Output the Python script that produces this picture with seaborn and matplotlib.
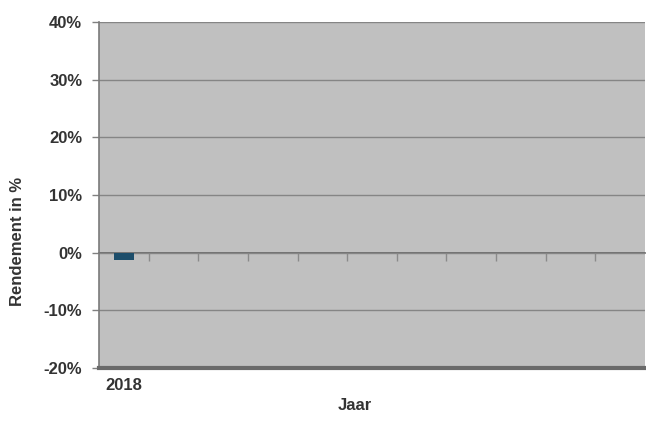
import numpy as np
import pandas as pd
import matplotlib
matplotlib.use('Agg')
import matplotlib.pyplot as plt
import seaborn as sns

# data
jaren = ['2018', '2019', '2020', '2021', '2022', '2023', '2024', '2025', '2026', '2027', '2028']
rendement = [-1.2, np.nan, np.nan, np.nan, np.nan, np.nan, np.nan, np.nan, np.nan, np.nan, np.nan]
x_labels = ['2018', '', '', '', '', '', '', '', '', '', '']
y_ticks = [-20, -10, 0, 10, 20, 30, 40]
y_labels = ['-20%', '-10%', '0%', '10%', '20%', '30%', '40%']

df = pd.DataFrame({'jaar': jaren, 'rendement': rendement})

sns.set_style('white')
plt.rcParams['font.family'] = ['Liberation Sans', 'DejaVu Sans']
plt.rcParams['font.weight'] = 'bold'

fig, ax = plt.subplots(figsize=(6.46, 4.25), dpi=100)
fig.subplots_adjust(left=99/646, right=645/646, bottom=(425-368)/425, top=(425-22)/425)
ax.set_facecolor('#c0c0c0')

sns.barplot(data=df, x='jaar', y='rendement', order=jaren, color='#1d4e6b',
            width=0.4, saturation=1, linewidth=0, ax=ax)

ymin, ymax = y_ticks[0], y_ticks[-1]
ax.set_ylim(ymin, ymax)
ax.set_xlim(-0.5, len(jaren) - 0.5)
ax.set_yticks(y_ticks)
ax.set_yticklabels(y_labels)
ax.set_xticks(range(len(jaren)))
ax.set_xticklabels(x_labels)

ax.yaxis.grid(True, color='#858585', linewidth=1)
ax.set_axisbelow(True)

ax.tick_params(axis='y', direction='out', length=5, width=1, color='#808080',
               pad=7, labelsize=12, labelcolor='#333333', left=True)
ax.tick_params(axis='x', length=0, pad=7, labelsize=12, labelcolor='#333333')

for s in ['top', 'right']:
    ax.spines[s].set_visible(False)
ax.spines['left'].set_color('#7a7a7a')
ax.spines['left'].set_linewidth(1.2)
ax.spines['bottom'].set_color('#6a6a6a')
ax.spines['bottom'].set_linewidth(3)

# category axis crossing at 0 with tick marks between categories
sec = ax.secondary_xaxis((0 - ymin) / (ymax - ymin))
sec.set_alignment('bottom')
sec.set_xticks(np.arange(len(jaren) - 1) + 0.5)
sec.tick_params(direction='out', length=6, width=1, color='#8a8a8a', labelbottom=False)
sec.spines['bottom'].set_color('#606060')
sec.spines['bottom'].set_linewidth(1.2)

ax.set_ylabel('Rendement in %', fontsize=12, fontweight='bold', color='#333333')
ax.yaxis.set_label_coords(-0.135, 0.367)
ax.set_xlabel('Jaar', fontsize=12, fontweight='bold', color='#333333')
ax.xaxis.set_label_coords(0.469, -0.087)
ax.xaxis.label.set_va('top')

plt.savefig('out.png', dpi=100)
plt.close()
